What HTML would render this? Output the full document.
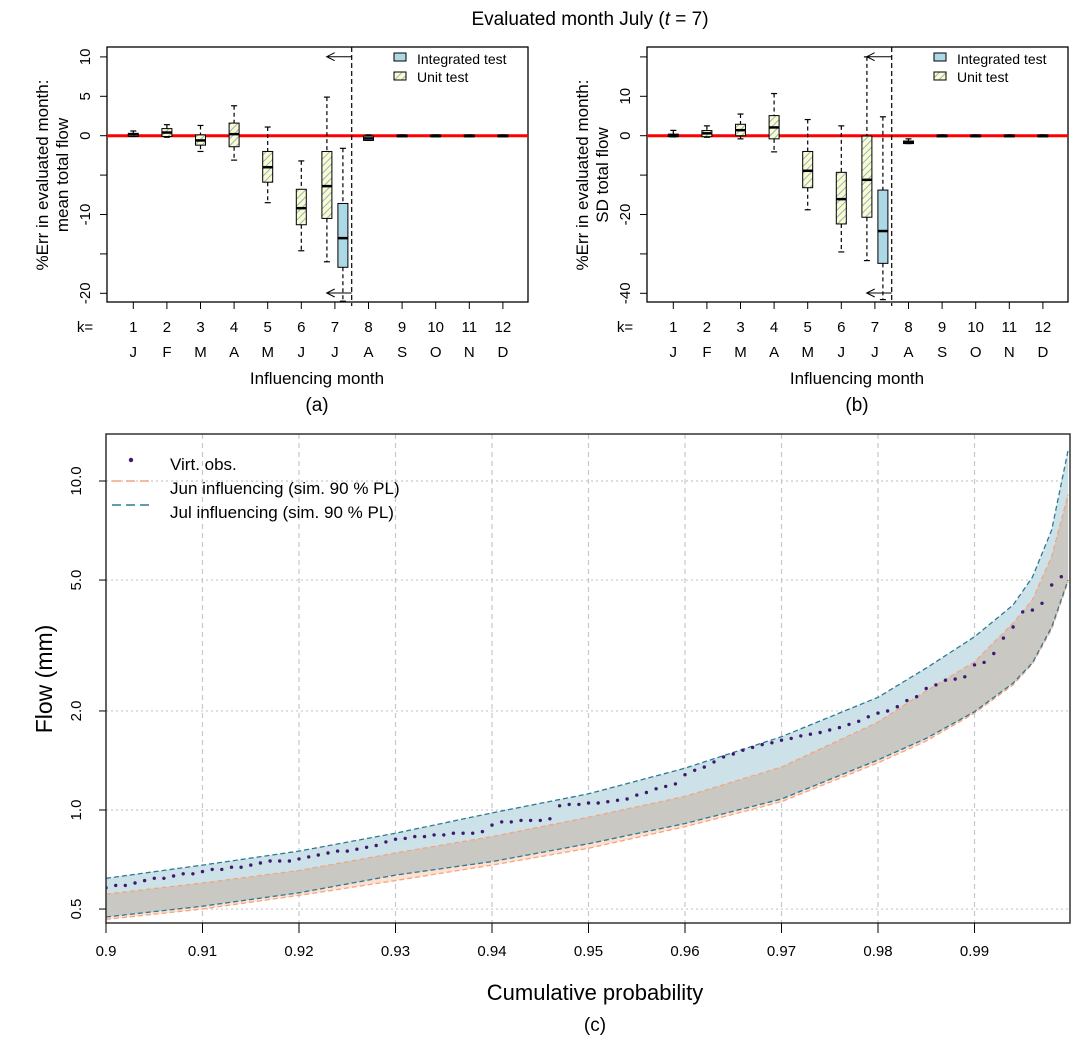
<!DOCTYPE html>
<html><head><meta charset="utf-8"><style>
body{margin:0;background:#fff}
svg text{font-family:"Liberation Sans",sans-serif;fill:#000}
</style></head><body>
<svg id="c" width="1080" height="1045" viewBox="0 0 1080 1045" xmlns="http://www.w3.org/2000/svg">
<defs>
<pattern id="hatch" patternUnits="userSpaceOnUse" width="5" height="5" patternTransform="rotate(45)">
<rect width="5" height="5" fill="#fdfbcb"/><line x1="0" y1="0" x2="0" y2="5" stroke="#6aa6d8" stroke-width="1.6"/>
</pattern>
<clipPath id="clipA"><rect x="107" y="47" width="421" height="255"/></clipPath>
<clipPath id="clipB"><rect x="647" y="47" width="421" height="255"/></clipPath>
<clipPath id="clipC"><rect x="106" y="434" width="964" height="489"/></clipPath>
</defs>
<text x="590" y="25" font-size="19" text-anchor="middle">Evaluated month July (<tspan font-style="italic">t</tspan> = 7)</text>
<g id="gA"></g>
<g id="gB"></g>
<g id="gC"></g>
</svg>
<script>
// ---- Panel (a) data: mean total flow %Err ----
const months = ["J","F","M","A","M","J","J","A","S","O","N","D"];
const unitK = [1,2,3,4,5,6,7];
const aUnitLo  = [-0.1,-0.2,-2.0,-3.1,-8.5,-14.6,-16.0];
const aUnitQ1  = [-0.1,-0.1,-1.2,-1.4,-5.9,-11.3,-10.5];
const aUnitMed = [0.15,0.4,-0.6,0.2,-4.0,-9.2,-6.4];
const aUnitQ3  = [0.3,0.9,0.1,1.6,-2.0,-6.8,-2.0];
const aUnitHi  = [0.6,1.4,1.3,3.8,1.1,-3.2,4.9];
const intK = [7,8,9,10,11,12];
const aIntLo  = [-21,-0.6,-0.1,-0.1,-0.1,-0.1];
const aIntQ1  = [-16.7,-0.6,-0.1,-0.1,-0.1,-0.1];
const aIntMed = [-13.0,-0.35,0,0,0,0];
const aIntQ3  = [-8.6,-0.05,0.1,0.1,0.1,0.1];
const aIntHi  = [-1.6,0.1,0.1,0.1,0.1,0.1];
const aTicks = [10,5,0,-5,-10,-15,-20];
const aTickLabels = ["10","5","0","","-10","","-20"];
// ---- Panel (b) data: SD total flow %Err ----
const bUnitLo  = [-0.3,-0.4,-0.8,-4.1,-18.8,-29.5,-31.7];
const bUnitQ1  = [-0.25,-0.25,0,-0.8,-13.2,-22.4,-20.7];
const bUnitMed = [0,0.6,1.4,2.1,-8.9,-16.1,-11.2];
const bUnitQ3  = [0.4,1.3,2.9,5.1,-4.0,-9.3,-0.1];
const bUnitHi  = [1.35,2.5,5.5,10.7,4.1,2.5,20];
const bIntLo  = [-41.6,-2.0,-0.2,-0.2,-0.2,-0.2];
const bIntQ1  = [-32.4,-2.0,-0.2,-0.2,-0.2,-0.2];
const bIntMed = [-24.2,-1.7,0,0,0,0];
const bIntQ3  = [-13.8,-1.35,0.2,0.2,0.2,0.2];
const bIntHi  = [4.8,-0.8,0.2,0.2,0.2,0.2];
const bTicks = [20,10,0,-10,-20,-30,-40];
const bTickLabels = ["","10","0","","-20","","-40"];
// ---- Panel (c) data ----
const bandP = [0.9,0.91,0.92,0.93,0.94,0.95,0.96,0.97,0.98,0.985,0.99,0.994,0.996,0.998,0.9997];
const julHi = [0.62,0.68,0.75,0.85,0.98,1.12,1.34,1.67,2.2,2.7,3.36,4.2,5.1,7.1,12.4];
const junHi = [0.555,0.6,0.655,0.74,0.83,0.95,1.1,1.35,1.85,2.3,2.82,3.7,4.35,5.9,9.1];
const julLo = [0.473,0.51,0.56,0.634,0.697,0.79,0.91,1.08,1.42,1.65,1.99,2.43,2.8,3.6,5.0];
const junLo = [0.465,0.5,0.55,0.61,0.68,0.765,0.89,1.06,1.39,1.62,1.97,2.4,2.78,3.55,4.95];
const obsStart = 0.9, obsStep = 0.001;
const obs = [0.58,0.59,0.59,0.60,0.61,0.62,0.62,0.63,0.64,0.64,
0.65,0.66,0.66,0.67,0.67,0.68,0.69,0.70,0.70,0.70,
0.71,0.72,0.73,0.74,0.75,0.75,0.76,0.77,0.78,0.80,
0.815,0.82,0.83,0.83,0.84,0.84,0.85,0.85,0.85,0.86,
0.90,0.92,0.92,0.93,0.93,0.93,0.94,1.03,1.04,1.04,
1.05,1.05,1.06,1.07,1.08,1.11,1.13,1.16,1.18,1.20,
1.28,1.32,1.35,1.40,1.45,1.48,1.52,1.55,1.58,1.60,
1.63,1.65,1.68,1.70,1.72,1.75,1.78,1.82,1.86,1.92,
1.97,2.0,2.06,2.15,2.21,2.34,2.40,2.48,2.50,2.54,
2.76,2.81,2.99,3.33,3.6,4.0,4.05,4.25,4.83,5.12];
const cYTicks = [0.5,1.0,2.0,5.0,10.0];
const cYLabels = ["0.5","1.0","2.0","5.0","10.0"];
const cXTicks = [0.9,0.91,0.92,0.93,0.94,0.95,0.96,0.97,0.98,0.99];
const cXLabels = ["0.9","0.91","0.92","0.93","0.94","0.95","0.96","0.97","0.98","0.99"];

const NS = "http://www.w3.org/2000/svg";
function mk(parent, tag, attrs, text){
  const e = document.createElementNS(NS, tag);
  for (const k in attrs) e.setAttribute(k, attrs[k]);
  if (text !== undefined) e.textContent = text;
  parent.appendChild(e);
  return e;
}

function boxPanel(g, x0, clipId, yScaleUnits, ticks, tickLabels, uLo,uQ1,uMed,uQ3,uHi, iLo,iQ1,iMed,iQ3,iHi, ylab1, ylab2, tag, arrowLeft){
  const left = x0, right = x0+421, top = 47, bottom = 302;
  const y = v => 135.7 - v*yScaleUnits;
  const xk = k => left + 26.3 + (k-1)*33.6;
  const fr = mk(g,'rect',{x:left,y:top,width:421,height:255,fill:'none',stroke:'#000','stroke-width':1.3});
  
  
  ticks.forEach((t,i)=>{
    const l = mk(g,'line',{x1:left-7,x2:left,y1:y(t),y2:y(t),stroke:'#000','stroke-width':1});
    
    
    if (tickLabels[i]!==""){
      const tx = mk(g,'text',{x:left-17,y:y(t),'font-size':15,'text-anchor':'middle',transform:`rotate(-90 ${left-17} ${y(t)})`},tickLabels[i]);
      
      
    }
  });
  const yt1 = mk(g,'text',{x:left-59,y:175,'font-size':17,'text-anchor':'middle',transform:`rotate(-90 ${left-59} 175)`},ylab1);
  
  
  const yt2 = mk(g,'text',{x:left-39,y:175,'font-size':17,'text-anchor':'middle',transform:`rotate(-90 ${left-39} 175)`},ylab2);
  
  
  const kl = mk(g,'text',{x:left-22,y:332,'font-size':15,'text-anchor':'middle'},'k=');
  
  
  for (let k=1;k<=12;k++){
    const l = mk(g,'line',{x1:xk(k),x2:xk(k),y1:bottom,y2:bottom+7,stroke:'#000','stroke-width':1});
    
    
    const t1 = mk(g,'text',{x:xk(k),y:332,'font-size':15,'text-anchor':'middle'},String(k));
    
    
    const t2 = mk(g,'text',{x:xk(k),y:357,'font-size':15,'text-anchor':'middle'},months[k-1]);
    
    
  }
  const xt = mk(g,'text',{x:left+210,y:384,'font-size':17,'text-anchor':'middle'},'Influencing month');
  
  
  const pt = mk(g,'text',{x:left+210,y:411,'font-size':19,'text-anchor':'middle'},tag);
  
  
  const cg = mk(g,'g',{'clip-path':`url(#${clipId})`});
  const zl = mk(cg,'line',{x1:left,x2:right,y1:y(0),y2:y(0),stroke:'#ff0000','stroke-width':3});
  
  
  function drawBox(cx, lo,q1,med,q3,hi, fill, name){
    const bg = mk(cg,'g',{});
    
    
    mk(bg,'line',{x1:cx,x2:cx,y1:y(hi),y2:y(q3),stroke:'#000','stroke-width':1.2,'stroke-dasharray':'4 3'});
    mk(bg,'line',{x1:cx,x2:cx,y1:y(q1),y2:y(lo),stroke:'#000','stroke-width':1.2,'stroke-dasharray':'4 3'});
    mk(bg,'line',{x1:cx-3,x2:cx+3,y1:y(hi),y2:y(hi),stroke:'#000','stroke-width':1.2});
    mk(bg,'line',{x1:cx-3,x2:cx+3,y1:y(lo),y2:y(lo),stroke:'#000','stroke-width':1.2});
    const h = Math.max(y(q1)-y(q3),2);
    mk(bg,'rect',{x:cx-5,y:y(q3),width:10,height:h,fill:fill,stroke:'#000','stroke-width':1});
    mk(bg,'line',{x1:cx-5,x2:cx+5,y1:y(med),y2:y(med),stroke:'#000','stroke-width':2.5});
  }
  unitK.forEach((k,i)=>{
    const cx = xk(k) + (k===7?-8:0);
    drawBox(cx,uLo[i],uQ1[i],uMed[i],uQ3[i],uHi[i],'url(#hatch)','unit-box-k'+k);
  });
  intK.forEach((k,i)=>{
    const cx = xk(k) + (k===7?8:0);
    drawBox(cx,iLo[i],iQ1[i],iMed[i],iQ3[i],iHi[i],'#add8e6','integrated-box-k'+k);
  });
  const vx = left+244.7;
  const vl = mk(g,'line',{x1:vx,x2:vx,y1:top,y2:bottom+4,stroke:'#000','stroke-width':1.2,'stroke-dasharray':'5 3'});
  
  
  [56.7,293].forEach(ay=>{
    const a = mk(g,'path',{d:`M${vx},${ay} H${vx-arrowLeft} M${vx-arrowLeft+8},${ay-4} L${vx-arrowLeft},${ay} L${vx-arrowLeft+8},${ay+4}`,fill:'none',stroke:'#000','stroke-width':1});
    
    
  });
  const lg = mk(g,'g',{});
  
  
  mk(lg,'rect',{x:left+287,y:53,width:12,height:8,fill:'#add8e6',stroke:'#000','stroke-width':1});
  mk(lg,'text',{x:left+310,y:64,'font-size':14},'Integrated test');
  mk(lg,'rect',{x:left+287,y:72,width:12,height:8,fill:'url(#hatch)',stroke:'#000','stroke-width':1});
  mk(lg,'text',{x:left+310,y:82,'font-size':14},'Unit test');
}

boxPanel(document.getElementById('gA'),107,'clipA',7.88,aTicks,aTickLabels,aUnitLo,aUnitQ1,aUnitMed,aUnitQ3,aUnitHi,aIntLo,aIntQ1,aIntMed,aIntQ3,aIntHi,'%Err in evaluated month:','mean total flow','(a)',25);
boxPanel(document.getElementById('gB'),647,'clipB',3.94,bTicks,bTickLabels,bUnitLo,bUnitQ1,bUnitMed,bUnitQ3,bUnitHi,bIntLo,bIntQ1,bIntMed,bIntQ3,bIntHi,'%Err in evaluated month:','SD total flow','(b)',25);

// ---- Panel (c) ----
(function(){
  const g = document.getElementById('gC');
  const L=106,R=1070,T=434,B=923;
  const xs = p => L + (p-0.9)*9650;
  const ys = v => 810 - 329*Math.log10(v);
  cXTicks.forEach(p=>{
    const l = mk(g,'line',{x1:xs(p),x2:xs(p),y1:T,y2:B,stroke:'#c8c8c8','stroke-width':1.2,'stroke-dasharray':'5 4'});
    
    
  });
  cYTicks.forEach(v=>{
    const l = mk(g,'line',{x1:L,x2:R,y1:ys(v),y2:ys(v),stroke:'#c8c8c8','stroke-width':1.2,'stroke-dasharray':'2 3'});
    
    
  });
  const cg = mk(g,'g',{'clip-path':'url(#clipC)'});
  function poly(hi, lo){
    let d = '';
    bandP.forEach((p,i)=>{ d += (i?'L':'M') + xs(p).toFixed(1) + ',' + ys(hi[i]).toFixed(1); });
    for (let i=bandP.length-1;i>=0;i--) d += 'L' + xs(bandP[i]).toFixed(1) + ',' + ys(lo[i]).toFixed(1);
    return d + 'Z';
  }
  function line(arr){
    let d='';
    bandP.forEach((p,i)=>{ d += (i?'L':'M') + xs(p).toFixed(1) + ',' + ys(arr[i]).toFixed(1); });
    return d;
  }
  const jb = mk(cg,'path',{d:poly(junHi,junLo),fill:'#fde0d0'});
  
  
  const bb = mk(cg,'path',{d:poly(julHi,julLo),fill:'#cde1e8'});
  
  
  const ov = mk(cg,'path',{d:poly(junHi,julLo),fill:'#cac8c3'});
  
  
  [[junHi,'#f4a582','jun-upper-line'],[junLo,'#f4a582','jun-lower-line'],[julHi,'#2b7a95','jul-upper-line'],[julLo,'#2b7a95','jul-lower-line']].forEach(s=>{
    const l = mk(cg,'path',{d:line(s[0]),fill:'none',stroke:s[1],'stroke-width':1.3,'stroke-dasharray':'5 3'});
    
    
  });
  const og = mk(cg,'g',{fill:'#3e1a6e'});
  
  
  obs.forEach((v,i)=>{
    const p = Math.min(obsStart + i*obsStep, 0.9997);
    const c = mk(og,'circle',{cx:xs(p).toFixed(1),cy:ys(v).toFixed(1),r:1.7});
    
    
  });
  const fr = mk(g,'rect',{x:L,y:T,width:R-L,height:B-T,fill:'none',stroke:'#333','stroke-width':1.5});
  
  
  cYTicks.forEach((v,i)=>{
    const l = mk(g,'line',{x1:L-7,x2:L,y1:ys(v),y2:ys(v),stroke:'#000','stroke-width':1});
    
    
    const t = mk(g,'text',{x:L-25,y:ys(v),'font-size':15,'text-anchor':'middle',fill:'#333',transform:`rotate(-90 ${L-25} ${ys(v)})`},cYLabels[i]);
    
    
  });
  cXTicks.forEach((p,i)=>{
    const l = mk(g,'line',{x1:xs(p),x2:xs(p),y1:B,y2:B+10,stroke:'#000','stroke-width':1});
    
    
    const t = mk(g,'text',{x:xs(p),y:956,'font-size':15,'text-anchor':'middle'},cXLabels[i]);
    
    
  });
  const yt = mk(g,'text',{x:52,y:679,'font-size':23,'text-anchor':'middle',transform:'rotate(-90 52 679)'},'Flow (mm)');
  
  
  const xt = mk(g,'text',{x:595,y:1000,'font-size':22,'text-anchor':'middle'},'Cumulative probability');
  
  
  const tg = mk(g,'text',{x:595,y:1031,'font-size':19,'text-anchor':'middle'},'(c)');
  
  
  const lg = mk(g,'g',{});
  
  
  mk(lg,'circle',{cx:131,cy:460,r:2.2,fill:'#3e1a6e'});
  mk(lg,'text',{x:170,y:470,'font-size':17},'Virt. obs.');
  mk(lg,'line',{x1:112,x2:152,y1:481,y2:481,stroke:'#f4a582','stroke-width':1.5,'stroke-dasharray':'9 5'});
  mk(lg,'text',{x:170,y:494,'font-size':17},'Jun influencing (sim. 90 % PL)');
  mk(lg,'line',{x1:112,x2:152,y1:505,y2:505,stroke:'#2b7a95','stroke-width':1.5,'stroke-dasharray':'9 5'});
  mk(lg,'text',{x:170,y:518,'font-size':17},'Jul influencing (sim. 90 % PL)');
})();
</script>
</body></html>
